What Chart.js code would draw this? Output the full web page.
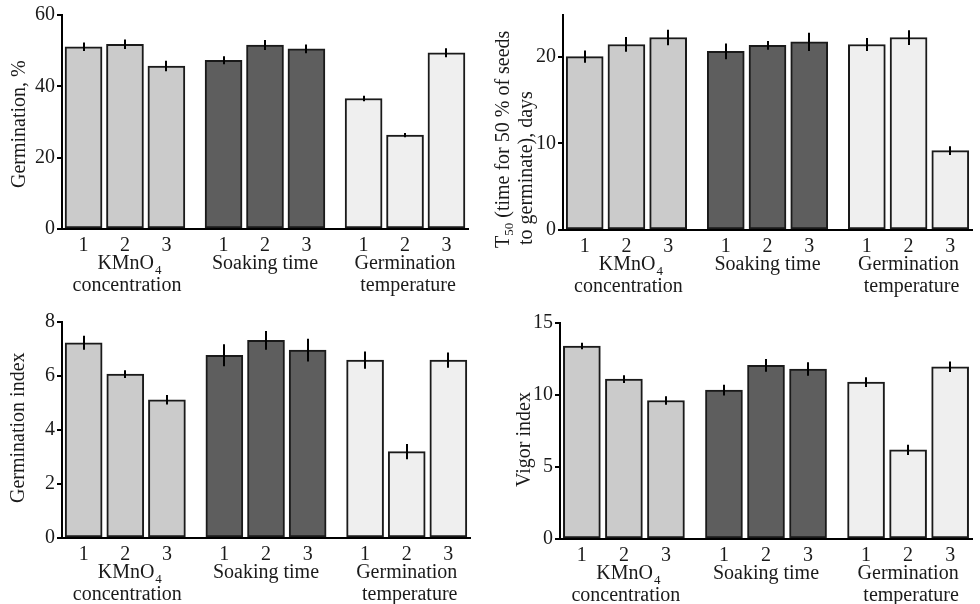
<!DOCTYPE html>
<html>
<head>
<meta charset="utf-8">
<script src="https://cdn.jsdelivr.net/npm/chart.js@4"></script>
<style>
  body { margin: 0; background: #fff; }
  #wrap { position: relative; width: 980px; height: 604px; }
  .panel { position: absolute; width: 490px; height: 302px; }
</style>
</head>
<body>
<div id="wrap">
  <div class="panel" style="left:0;top:0"><canvas id="c1" width="490" height="302"></canvas></div>
  <div class="panel" style="left:490px;top:0"><canvas id="c2" width="490" height="302"></canvas></div>
  <div class="panel" style="left:0;top:302px"><canvas id="c3" width="490" height="302"></canvas></div>
  <div class="panel" style="left:490px;top:302px"><canvas id="c4" width="490" height="302"></canvas></div>
</div>
<script>
// levels inside each factor and factor names
const levels = ['1', '2', '3'];
const groups = ['KMnO4 concentration', 'Soaking time', 'Germination temperature'];

// values (mean, error)
const germination = [51.1, 51.8, 45.7, 47.3, 51.6, 50.5, 36.6, 26.3, 49.4];
const germinationErr = [1.2, 1.3, 1.5, 1.1, 1.4, 1.25, 0.75, 0.6, 1.25];
const t50 = [20.0, 21.4, 22.2, 20.6, 21.3, 21.7, 21.4, 22.2, 9.15];
const t50Err = [0.7, 0.85, 0.9, 0.9, 0.5, 1.05, 0.75, 0.85, 0.5];
const germIndex = [7.23, 6.07, 5.12, 6.77, 7.32, 6.96, 6.59, 3.2, 6.59];
const germIndexErr = [0.26, 0.14, 0.18, 0.41, 0.35, 0.42, 0.32, 0.28, 0.28];
const vigorIndex = [13.4, 11.1, 9.62, 10.34, 12.06, 11.8, 10.9, 6.19, 11.96];
const vigorIndexErr = [0.23, 0.27, 0.3, 0.38, 0.44, 0.47, 0.34, 0.35, 0.37];

const groupColors = ['#cbcbcb', '#5e5e5e', '#efefef'];
const FONT = "'Liberation Serif', 'Times New Roman', serif";
const INK = '#1a1a1a';
const GROUP_STEP = 3.38;

// bar x position: group offset + level index
const xPos = [];
const barColors = [];
groups.forEach((g, gi) => levels.forEach((l, li) => {
  xPos.push(gi * GROUP_STEP + li);
  barColors.push(groupColors[gi]);
}));

// draws error bars and the text under / beside the axes
const decorPlugin = {
  id: 'decor',
  afterDatasetsDraw(chart) {
    const { ctx, scales: { x, y } } = chart;
    const errs = chart.options.plugins.decor.errors;
    const vals = chart.data.datasets[0].data;
    ctx.save();
    ctx.strokeStyle = '#000';
    ctx.lineWidth = 2;
    vals.forEach((p, i) => {
      const px = Math.round(x.getPixelForValue(p.x));
      ctx.beginPath();
      ctx.moveTo(px, y.getPixelForValue(p.y + errs[i]));
      ctx.lineTo(px, y.getPixelForValue(p.y - errs[i]));
      ctx.stroke();
    });
    ctx.restore();
  },
  afterDraw(chart) {
    const { ctx, scales: { x } } = chart;
    const o = chart.options.plugins.decor;
    ctx.save();
    ctx.fillStyle = INK;
    ctx.textBaseline = 'alphabetic';
    // group labels
    const base = chart.chartArea.bottom;
    groups.forEach((g, gi) => {
      const cx = x.getPixelForValue(gi * GROUP_STEP + 1);
      ctx.font = '20px ' + FONT;
      ctx.textAlign = 'center';
      if (gi === 0) {
        const w1 = ctx.measureText('KMnO').width;
        ctx.font = '13px ' + FONT;
        const w2 = ctx.measureText('4').width;
        const left = cx - (w1 + w2) / 2 + 4;
        ctx.textAlign = 'left';
        ctx.font = '20px ' + FONT;
        ctx.fillText('KMnO', left, base + 40);
        ctx.font = '13px ' + FONT;
        ctx.fillText('4', left + w1 + 1, base + 45);
        ctx.font = '20px ' + FONT;
        ctx.textAlign = 'center';
        ctx.fillText('concentration', cx + 2, base + 62);
      } else if (gi === 1) {
        ctx.fillText('Soaking time', cx, base + 40);
      } else {
        ctx.fillText('Germination', cx, base + 40);
        ctx.fillText('temperature', cx + 3, base + 62);
      }
    });
    // rotated y title
    o.title.forEach(line => {
      ctx.save();
      ctx.translate(line.x, line.y);
      ctx.rotate(-Math.PI / 2);
      ctx.textAlign = 'left';
      let cur = 0;
      line.parts.forEach(part => {
        ctx.font = (part.sub ? '13px ' : '20px ') + FONT;
        ctx.fillText(part.t, cur, part.sub ? 4 : 0);
        cur += ctx.measureText(part.t).width;
      });
      ctx.restore();
    });
    ctx.restore();
  }
};

function makePanel(id, values, errors, box, yMax, yStep, title) {
  const ctx = document.getElementById(id).getContext('2d');
  return new Chart(ctx, {
    type: 'bar',
    data: {
      datasets: [{
        data: values.map((v, i) => ({ x: xPos[i], y: v })),
        backgroundColor: barColors,
        borderColor: '#1a1a1a',
        borderWidth: 2,
        borderSkipped: false,
        barThickness: 37,
      }]
    },
    options: {
      responsive: false,
      devicePixelRatio: 1,
      animation: false,
      layout: { padding: { left: 0, top: box.top, right: 490 - box.right, bottom: 0 } },
      plugins: {
        legend: { display: false },
        tooltip: { enabled: false },
        decor: { errors: errors, title: title }
      },
      scales: {
        x: {
          type: 'linear',
          offset: false,
          min: -0.52,
          max: 2 * GROUP_STEP + 2.52,
          afterBuildTicks: s => { s.ticks = xPos.map(v => ({ value: v })); },
          afterFit: s => { s.height = 302 - box.bottom; },
          grid: { display: false, drawTicks: false, offset: false },
          border: { display: true, color: '#000', width: 2 },
          ticks: {
            autoSkip: false,
            maxRotation: 0,
            padding: 5,
            color: INK,
            font: { family: FONT, size: 20 },
            callback: (v, i) => levels[i % 3]
          }
        },
        y: {
          min: 0,
          max: yMax,
          afterBuildTicks: s => {
            s.ticks = s.ticks.filter(t => Math.abs(t.value / yStep - Math.round(t.value / yStep)) < 1e-6);
          },
          afterFit: s => { s.width = box.left; },
          grid: { drawOnChartArea: false, drawTicks: true, tickLength: 5, color: '#000', lineWidth: 2 },
          border: { display: true, color: '#000', width: 2 },
          ticks: {
            stepSize: yStep,
            padding: 2,
            color: INK,
            font: { family: FONT, size: 20 }
          }
        }
      }
    },
    plugins: [decorPlugin]
  });
}

makePanel('c1', germination, germinationErr,
  { left: 62, right: 468, top: 15, bottom: 229 }, 60, 20,
  [{ x: 25, y: 188, parts: [{ t: 'Germination, %' }] }]);

makePanel('c2', t50, t50Err,
  { left: 73, right: 482, top: 15, bottom: 230 }, 24.8, 10,
  [{ x: 19, y: 248, parts: [{ t: 'T' }, { t: '50', sub: true }, { t: ' (time for 50 % of seeds' }] },
   { x: 42, y: 245, parts: [{ t: 'to germinate), days' }] }]);

makePanel('c3', germIndex, germIndexErr,
  { left: 62, right: 470, top: 20, bottom: 236 }, 8, 2,
  [{ x: 24, y: 201, parts: [{ t: 'Germination index' }] }]);

makePanel('c4', vigorIndex, vigorIndexErr,
  { left: 70, right: 482, top: 21, bottom: 237 }, 15, 5,
  [{ x: 40, y: 185, parts: [{ t: 'Vigor index' }] }]);
</script>
</body>
</html>
